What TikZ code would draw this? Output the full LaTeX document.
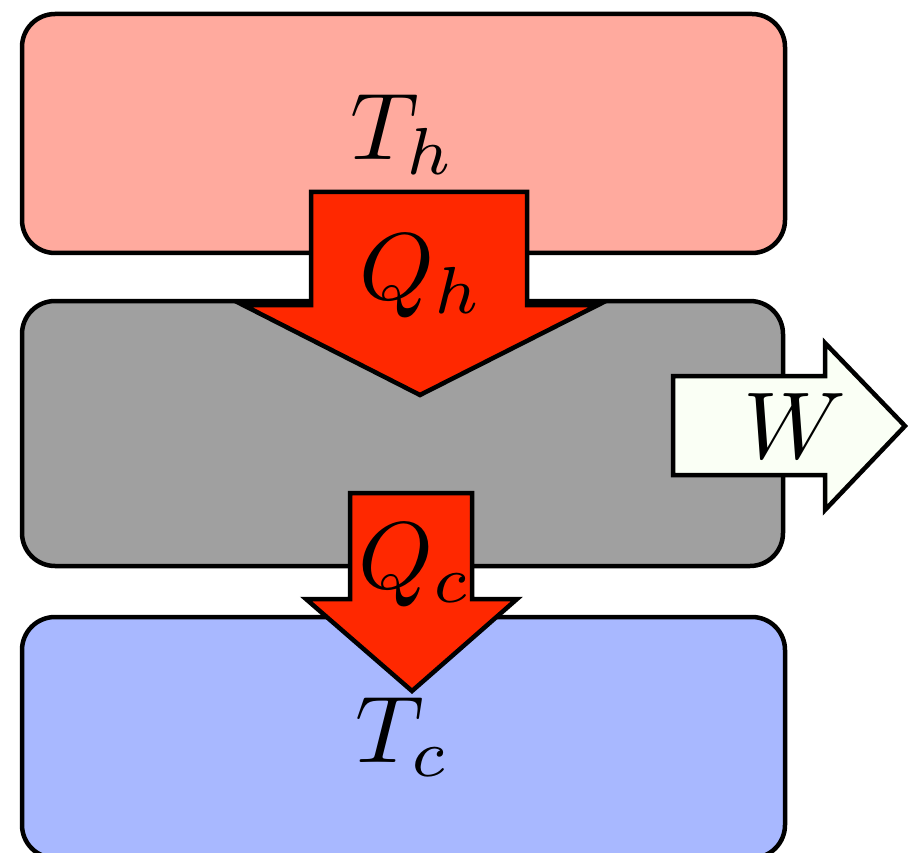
\documentclass[tikz,border=0pt]{standalone}
\definecolor{hotc}{RGB}{255,170,158}
\definecolor{engc}{RGB}{160,160,160}
\definecolor{coldc}{RGB}{168,184,255}
\definecolor{heatc}{RGB}{255,40,0}
\definecolor{workc}{RGB}{250,255,245}
\tikzset{
  resbox/.style={draw=black,line width=4.5pt,rounded corners=33pt},
  flowarrow/.style={draw=black,line width=4.5pt,line join=miter},
  lbl/.style={anchor=base,inner sep=0pt,scale=9.5}
}
\begin{document}
\begin{tikzpicture}[x=1pt,y=-1pt]
\useasboundingbox (0,0) rectangle (908,853);
\clip (0,0) rectangle (908,853);
% reservoirs and engine
\draw[resbox,fill=hotc] (22,14) rectangle (785,253);
\draw[resbox,fill=engc] (22,301) rectangle (783,566);
\draw[resbox,fill=coldc] (22,617) rectangle (785,858);
% Q_h arrow
\draw[flowarrow,fill=heatc] (311,192) -- (527,192) -- (527,305) -- (598,305) -- (420,395) -- (243,305) -- (311,305) -- cycle;
% Q_c arrow
\draw[flowarrow,fill=heatc] (350,493) -- (472,493) -- (472,599) -- (517,599) -- (412,691) -- (306,599) -- (350,599) -- cycle;
% W arrow
\draw[flowarrow,fill=workc] (673,376) -- (825,376) -- (825,343) -- (905,426) -- (825,510) -- (825,475) -- (673,475) -- cycle;
% labels
\node[lbl] (th) at (403,160) {$T_h$};
\node[lbl] (qh) at (422,299) {$Q_h$};
\node[lbl] (w) at (795,458) {$W$};
\node[lbl] (qc) at (415,588) {$Q_c$};
\node[lbl] (tc) at (403,762) {$T_c$};
\end{tikzpicture}
\end{document}
